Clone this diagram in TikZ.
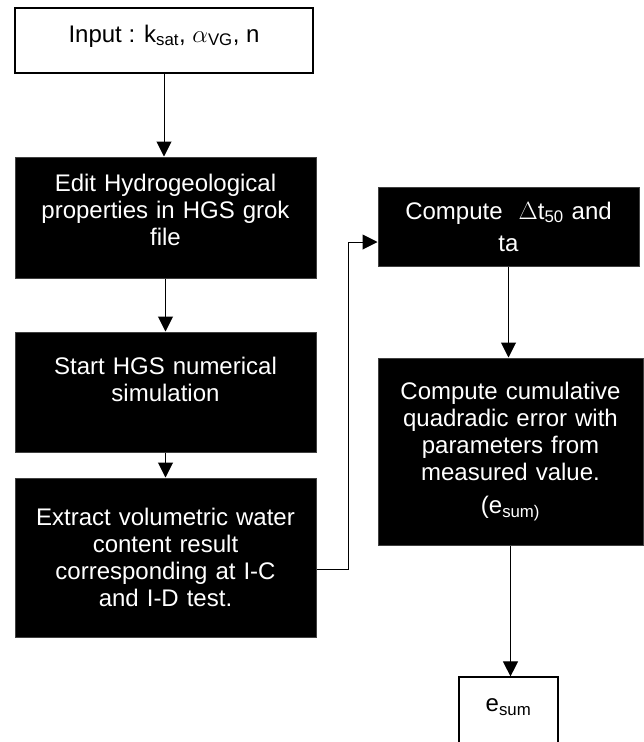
\documentclass[tikz,border=0pt]{standalone}
\usepackage{fontspec}
\setmainfont{Liberation Sans}
\usetikzlibrary{arrows.meta}
\begin{document}
\begin{tikzpicture}[x=1pt,y=-1pt,
  font=\fontsize{24}{27}\selectfont,
  wbox/.style={draw=black, line width=1.2pt, fill=white, inner sep=0pt, align=center},
  bbox/.style={draw=black!75, line width=1pt, fill=black, text=white, inner sep=0pt, align=center},
  arr/.style={line width=1pt, -{Triangle[width=15pt,length=15pt]}}]
\useasboundingbox (0,0) rectangle (644,742);
\node[wbox, minimum width=298pt, minimum height=65pt, text depth=14pt] (in) at (164,40.5)
  {Input : k\textsubscript{sat}, $\alpha$\textsubscript{VG}, n};
\node[bbox, minimum width=301pt, minimum height=121pt, text width=290pt, text depth=69pt] (edit) at (165.5,217.5)
  {Edit Hydrogeological\\properties in HGS grok\\file};
\node[bbox, minimum width=301pt, minimum height=120pt, text width=290pt, text depth=52pt] (start) at (165.5,392)
  {Start HGS numerical\\simulation};
\node[bbox, minimum width=301pt, minimum height=159pt, text width=290pt] (extract) at (165.5,557.5)
  {Extract volumetric water\\content result\\corresponding at I-C\\and I-D test.};
\node[bbox, minimum width=261pt, minimum height=79pt, text width=250pt] (dt) at (508.5,226.5)
  {Compute\ \ $\Delta$t\textsubscript{50} and\\[5pt]ta};
\node[bbox, minimum width=265pt, minimum height=187pt, text width=255pt] (cum) at (510.5,451.5)
  {Compute cumulative\\quadradic error with\\parameters from\\measured value.\\[6pt](e\textsubscript{sum)}};
\node[wbox, minimum width=99pt, minimum height=80pt, text depth=24pt] (es) at (508.5,717)
  {e\textsubscript{sum}};
\coordinate (j) at (348,569);
\coordinate (k) at (378,242);
\draw[arr] (in.south) -- (in.south |- edit.north);
\draw[arr] (edit.south) -- (edit.south |- start.north);
\draw[arr] (start.south) -- (start.south |- extract.north);
\draw[arr] (extract.east |- j) -- (j) |- (dt.west |- k);
\draw[arr] (dt.south) -- (dt.south |- cum.north);
\draw[arr] (cum.south) -- (cum.south |- es.north);
\end{tikzpicture}
\end{document}
